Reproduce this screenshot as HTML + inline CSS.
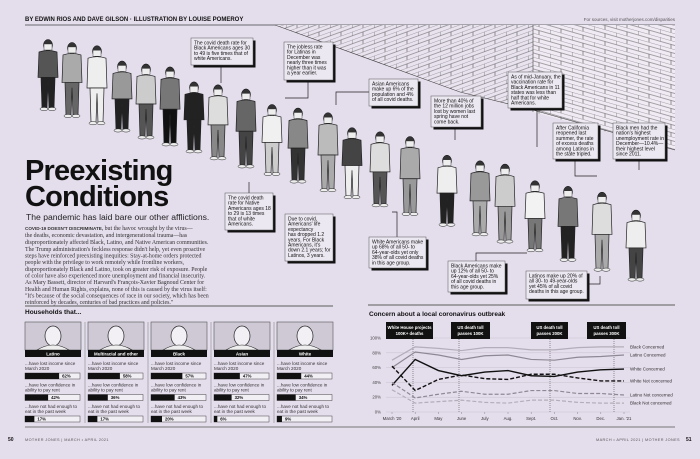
<!DOCTYPE html>
<html><head><meta charset="utf-8"><style>
html,body{margin:0;padding:0;background:#e4ddec;}
svg{display:block;font-family:"Liberation Sans",sans-serif;}
.ann{font-size:5px;fill:#111;}
</style></head><body>
<svg id="s" width="700" height="459" viewBox="0 0 700 459" xmlns="http://www.w3.org/2000/svg">
<defs>
<pattern id="brick" width="22" height="8" patternUnits="userSpaceOnUse" patternTransform="skewY(16)">
<rect width="22" height="8" fill="#efeaf3"/>
<path d="M0 0H22M0 4H22M0 0V4M11 4V8" stroke="#555" stroke-width="0.6" fill="none"/>
</pattern>
<pattern id="brick2" width="22" height="8" patternUnits="userSpaceOnUse" patternTransform="skewY(-20)">
<rect width="22" height="8" fill="#e9e3ef"/>
<path d="M0 0H22M0 4H22M0 0V4M11 4V8" stroke="#555" stroke-width="0.6" fill="none"/>
</pattern>
</defs>
<rect width="700" height="459" fill="#e4ddec"/>
<text x="25" y="21" font-size="6" font-weight="bold" fill="#111">BY EDWIN RIOS AND DAVE GILSON · ILLUSTRATION BY LOUISE POMEROY</text>
<text x="675" y="21" font-size="4.5" fill="#555" text-anchor="end">For sources, visit motherjones.com/disparities</text>
<line x1="25" y1="25" x2="675" y2="25" stroke="#444" stroke-width="0.8"/>
<polygon points="275,25 533,25 533,110 460,92" fill="url(#brick2)"/>
<polygon points="533,25 675,25 675,150 533,112" fill="url(#brick)"/>
<polyline points="275,25 460,92 533,110 675,150" fill="none" stroke="#444" stroke-width="0.6"/>
<line x1="533" y1="25" x2="533" y2="112" stroke="#444" stroke-width="0.6"/>
<g id="people"></g>
<text x="25" y="180" font-size="29" font-weight="900" fill="#111" letter-spacing="-0.8">Preexisting</text>
<text x="25" y="206" font-size="29" font-weight="900" fill="#111" letter-spacing="-0.8">Conditions</text>
<text x="26" y="220" font-size="8.6" fill="#222">The pandemic has laid bare our other afflictions.</text>
<g font-family="Liberation Serif,serif" font-size="5.9" fill="#333">
<text x="25" y="230"><tspan font-family="Liberation Sans" font-weight="bold" font-size="4.6">COVID-19 DOESN'T DISCRIMINATE,</tspan> but the havoc wrought by the virus—</text>
<text x="25" y="237">the deaths, economic devastation, and intergenerational trauma—has</text>
<text x="25" y="244">disproportionately affected Black, Latino, and Native American communities.</text>
<text x="25" y="251">The Trump administration's feckless response didn't help, yet even proactive</text>
<text x="25" y="257.5">steps have reinforced preexisting inequities: Stay-at-home orders protected</text>
<text x="25" y="264">people with the privilege to work remotely while frontline workers,</text>
<text x="25" y="271">disproportionately Black and Latino, took on greater risk of exposure. People</text>
<text x="25" y="277.5">of color have also experienced more unemployment and financial insecurity.</text>
<text x="25" y="284">As Mary Bassett, director of Harvard's François-Xavier Bagnoud Center for</text>
<text x="25" y="291">Health and Human Rights, explains, none of this is caused by the virus itself:</text>
<text x="25" y="297.5">"It's because of the social consequences of race in our society, which has been</text>
<text x="25" y="304">reinforced by decades, centuries of bad practices and policies."</text>
</g>
<g id="anns"></g>
<line x1="25" y1="306" x2="333" y2="306" stroke="#777" stroke-width="1.2"/>
<text x="25" y="314" font-size="6.5" font-weight="bold" fill="#111">Households that...</text>
<g id="hh"></g>
<line x1="25" y1="427" x2="340" y2="427" stroke="#777" stroke-width="1"/>
<line x1="368" y1="305" x2="675" y2="305" stroke="#777" stroke-width="1.2"/>
<text x="369" y="316" font-size="6.5" font-weight="bold" fill="#111">Concern about a local coronavirus outbreak</text>
<g id="chart"></g>
<line x1="340" y1="427" x2="675" y2="427" stroke="#777" stroke-width="1"/>
<text x="8" y="441" font-size="5" font-weight="bold" fill="#111">50</text>
<text x="25" y="441" font-size="3.8" fill="#555" letter-spacing="0.4">MOTHER JONES | MARCH • APRIL 2021</text>
<text x="680" y="441" font-size="3.8" fill="#555" letter-spacing="0.4" text-anchor="end">MARCH • APRIL 2021 | MOTHER JONES</text>
<text x="686" y="441" font-size="5" font-weight="bold" fill="#111">51</text>
</svg>
<script>
const NS="http://www.w3.org/2000/svg";
function el(p,t,a,txt){const e=document.createElementNS(NS,t);for(const k in a)e.setAttribute(k,a[k]);if(txt!==undefined)e.textContent=txt;p.appendChild(e);return e;}
const pg=document.getElementById('people');
const xs=[48,72,97,122,146,170,194,218,246,272,298,328,352,380,410,447,480,505,535,568,602,636];
const fills=['#555','#aaa','#eee','#999','#ccc','#777','#222','#ddd','#666','#f0f0f0','#888','#bbb','#444','#ddd','#aaa','#eee','#999','#ccc','#f2f2f2','#777','#ddd','#eee'];
const legs=['#222','#666','#eee','#222','#555','#111','#222','#888','#444','#ccc','#333','#aaa','#eee','#555','#999','#222','#aaa','#999','#777','#222','#aaa','#444'];
xs.forEach((x,i)=>{const fy=108+(x-48)*0.29;const h=68+(i%3)*4;const top=fy-h;
el(pg,'ellipse',{cx:x,cy:top+5,rx:4.5,ry:5.5,fill:'#333',stroke:'#111','stroke-width':0.5});
el(pg,'rect',{x:x-4,y:top+4,width:8,height:6,fill:'#eee',stroke:'#222','stroke-width':0.4});
el(pg,'path',{d:`M${x-9} ${top+12} Q${x} ${top+9} ${x+9} ${top+12} L${x+10} ${top+h*0.55} L${x-10} ${top+h*0.55}Z`,fill:fills[i],stroke:'#222','stroke-width':0.7});
el(pg,'path',{d:`M${x-7} ${top+h*0.55} L${x-6} ${fy} L${x-1} ${fy} L${x} ${top+h*0.62} L${x+1} ${fy} L${x+6} ${fy} L${x+7} ${top+h*0.55}Z`,fill:legs[i],stroke:'#222','stroke-width':0.7});
el(pg,'ellipse',{cx:x-4,cy:fy+1,rx:4,ry:1.6,fill:'#eee',stroke:'#222','stroke-width':0.5});
el(pg,'ellipse',{cx:x+4,cy:fy+1,rx:4,ry:1.6,fill:'#eee',stroke:'#222','stroke-width':0.5});
});
const ag=document.getElementById('anns');
const anns=[
[191,38,62,27,["The covid death rate for","Black Americans ages 30","to 49 is five times that of","white Americans."],[221,65,221,83]],
[284,42,49,38,["The jobless rate","for Latinas in","December was","nearly three times","higher than it was","a year earlier."],[308,80,308,98,285,98]],
[369,79,49,27,["Asian Americans","make up 6% of the","population and 4%","of all covid deaths."],[369,92,336,92,336,105]],
[431,96,50,31,["More than 40% of","the 12 million jobs","lost by women last","spring have not","come back."],[455,127,455,140]],
[508,72,54,36,["As of mid-January, the","vaccination rate for","Black Americans in 11","states was less than","half that for white","Americans."],[537,108,537,147]],
[553,123,45,36,["After California","reopened last","summer, the rate","of excess deaths","among Latinos in","the state tripled."],[575,159,575,176,597,176]],
[613,123,52,36,["Black men had the","nation's highest","unemployment rate in","December—10.4%—","their highest level","since 2011."],[639,159,639,170]],
[225,193,48,37,["The covid death","rate for Native","Americans ages 18","to 29 is 13 times","that of white","Americans."],[249,193,249,182]],
[285,214,48,47,["Due to covid,","Americans' life","expectancy","has dropped 1.2","years. For Black","Americans, it's","down 2.1 years; for","Latinos, 3 years."],null],
[369,237,57,31,["White Americans make","up 68% of all 50- to","64-year-olds yet only","38% of all covid deaths","in this age group."],[397,237,397,212,392,212]],
[448,261,57,31,["Black Americans make","up 12% of all 50- to","64-year-olds yet 25%","of all covid deaths in","this age group."],[476,261,476,253,527,253]],
[526,271,61,28,["Latinos make up 20% of","all 30- to 49-year-olds","yet 45% of all covid","deaths in this age group."],[587,284,600,284,600,276]]
];
anns.forEach(a=>{const[x,y,w,h,lines,ln]=a;
if(ln){let d='M'+ln[0]+' '+ln[1];for(let i=2;i<ln.length;i+=2)d+=' L'+ln[i]+' '+ln[i+1];el(ag,'path',{d,fill:'none',stroke:'#222','stroke-width':0.7});}
el(ag,'rect',{x:x+2.5,y:y+2.5,width:w,height:h,fill:'#111'});
el(ag,'rect',{x,y,width:w,height:h,fill:'#ece8f1',stroke:'#555','stroke-width':0.5});
lines.forEach((l,i)=>el(ag,'text',{x:x+3,y:y+6.5+i*5.2,class:'ann'},l));
});
const hg=document.getElementById('hh');
const groups=[['Latino',62,42,17],['Multiracial and other',58,36,17],['Black',57,43,20],['Asian',47,32,6],['White',44,34,9]];
const q=[["...have lost income since","March 2020"],["...have low confidence in","ability to pay rent"],["...have not had enough to","eat in the past week"]];
groups.forEach((g,i)=>{const x=25+i*63;
el(hg,'rect',{x,y:322,width:56,height:28,fill:'#cfc9d6',stroke:'#555','stroke-width':0.6});
el(hg,'ellipse',{cx:x+28,cy:336,rx:8,ry:10,fill:'#f2f0f4',stroke:'#222','stroke-width':0.7});
el(hg,'path',{d:`M${x+12} 350 Q${x+28} 340 ${x+44} 350Z`,fill:'#eee',stroke:'#222','stroke-width':0.6});
el(hg,'rect',{x,y:350,width:56,height:7,fill:'#111'});
el(hg,'text',{x:x+28,y:355.5,'font-size':4.5,'font-weight':'bold',fill:'#fff','text-anchor':'middle'},g[0]);
if(i<4)el(hg,'line',{x1:x+60,y1:322,x2:x+60,y2:423,stroke:'#888','stroke-width':0.6});
for(let r=0;r<3;r++){const ty=365+r*21.5;
el(hg,'text',{x,y:ty,'font-size':4.6,fill:'#333'},q[r][0]);
el(hg,'text',{x,y:ty+5,'font-size':4.6,fill:'#333'},q[r][1]);
const by=ty+8;const v=g[r+1];
el(hg,'rect',{x,y:by,width:55,height:6,fill:'#f1eef4',stroke:'#444','stroke-width':0.5});
el(hg,'rect',{x,y:by,width:55*v/100,height:6,fill:'#111'});
el(hg,'text',{x:x+55*v/100+3,y:by+4.6,'font-size':4.3,'font-weight':'bold',fill:'#111'},v+'%');}
});
const cg=document.getElementById('chart');
const X=i=>392+i*23.2, Y=v=>412-v*0.74;
[0,20,40,60,80,100].forEach(v=>{el(cg,'line',{x1:386,y1:Y(v),x2:630,y2:Y(v),stroke:'#c8c2cf','stroke-width':0.5});
el(cg,'text',{x:381,y:Y(v)+1.5,'font-size':4.3,fill:'#444','text-anchor':'end'},v+'%');});
const mon=["March '20","April","May","June","July","Aug.","Sept.","Oct.","Nov.","Dec.","Jan. '21"];
mon.forEach((m,i)=>{el(cg,'line',{x1:X(i),y1:412,x2:X(i),y2:414,stroke:'#888','stroke-width':0.5});el(cg,'text',{x:X(i),y:420,'font-size':4.3,fill:'#333','text-anchor':'middle'},m);});
const ev=[[386,47,"White House projects","100K+ deaths",413],[451,39,"US death toll","passes 100K",459],[531,37,"US death toll","passes 200K",550],[587,39,"US death toll","passes 300K",614]];
ev.forEach(e=>{el(cg,'line',{x1:e[4],y1:339,x2:e[4],y2:412,stroke:'#555','stroke-width':0.6,'stroke-dasharray':'1,1'});
el(cg,'rect',{x:e[0],y:322,width:e[1],height:17,fill:'#111'});
el(cg,'text',{x:e[0]+e[1]/2,y:329,'font-size':4.3,'font-weight':'bold',fill:'#fff','text-anchor':'middle'},e[2]);
el(cg,'text',{x:e[0]+e[1]/2,y:335,'font-size':4.3,'font-weight':'bold',fill:'#fff','text-anchor':'middle'},e[3]);});
const S=[
[[70,88,86,83,87,87,84,84,87,88,88],'#b3adb9',1.2,'',"Black Concerned",88],
[[60,81,77,71,76,77,71,70,74,75,77],'#8e8894',1.2,'',"Latino Concerned",77],
[[36,71,56,49,54,56,49,48,54,57,58],'#111',1.4,'',"White Concerned",58],
[[62,29,44,50,45,44,51,51,46,42,42],'#111',1.4,'4,2',"White Not concerned",42],
[[40,19,24,28,24,24,29,29,25,25,23],'#8e8894',1.2,'4,2',"Latino Not concerned",23],
[[30,12,14,16,13,12,16,16,13,12,12],'#b3adb9',1.2,'4,2',"Black Not concerned",12]];
S.forEach(s=>{el(cg,'polyline',{points:s[0].map((v,i)=>X(i)+','+Y(v)).join(' '),fill:'none',stroke:s[1],'stroke-width':s[2],'stroke-dasharray':s[3]});
el(cg,'text',{x:630,y:Y(s[5])+1.6,'font-size':4.5,fill:'#333'},s[4]);});
</script>
</body></html>
